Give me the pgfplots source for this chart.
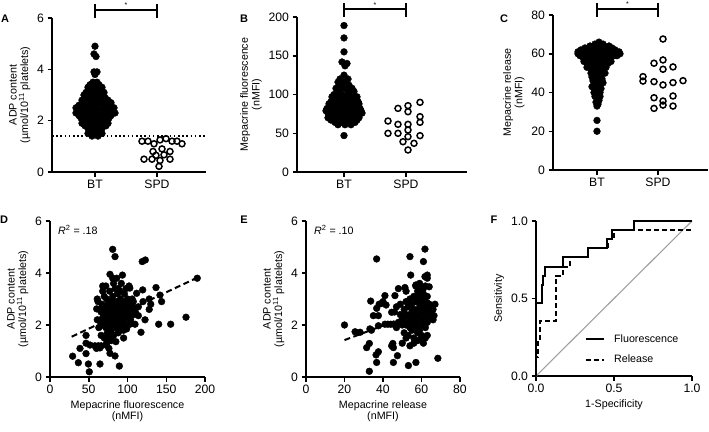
\documentclass[border=0pt]{standalone}
\usepackage{fontspec}
\setmainfont{Liberation Sans}
\usepackage{pgfplots}
\pgfplotsset{compat=1.18}
\newcommand{\tickfont}{\fontsize{12.2bp}{13.5bp}\selectfont}
\newcommand{\labfont}{\fontsize{10.7bp}{11.6bp}\selectfont}
\newcommand{\letfont}{\fontsize{11bp}{12bp}\selectfont\bfseries}
\tikzset{sig/.style={line width=1.6bp}}
\pgfplotsset{
  panel/.style={
    scale only axis, anchor=south west, clip=false,
    enlargelimits=false,
    axis lines=left, axis line style={-, line width=1.6bp},
    every tick/.style={black, line width=1.5bp},
    tick align=outside, major tick length=4.5bp,
    tick label style={font=\tickfont},
    label style={font=\labfont, align=center},
    /pgf/number format/assume math mode=true,
  },
  bfill/.style={only marks, mark=*, mark size=3.4bp, black},
  bopen/.style={only marks, mark=o, mark size=3.0bp, black, mark options={line width=1.5bp}},
}
\begin{document}
\begin{tikzpicture}
\useasboundingbox (0,0) rectangle (709bp,-432bp);

% ---------------- Panel A ----------------
\begin{axis}[panel, at={(52bp,-172bp)}, width=154bp, height=154bp,
  xmin=0, xmax=154, ymin=0, ymax=6,
  xtick={43,105}, xticklabels={BT,SPD}, ytick={0,2,4,6},
  ylabel={ADP content\\(µmol/10\textsuperscript{11} platelets)}]
\addplot[black, line width=1.6bp, dash pattern=on 1.6bp off 2.6bp] coordinates {(0,1.4) (154,1.4)};
\addplot[bfill] coordinates {
(43,4.9)(42,4.6)(44,4.5)(42,3.9)(45,3.9)(43,3.8)
(41,3.5)(45,3.5)(38,3.4)(47,3.4)(36,3.3)(43,3.3)(50,3.3)
(39,3.2)(47,3.2)(34,3.1)(43,3.1)(52,3.1)(32,3.0)(38,3.0)(49,3.0)
(34,2.9)(40,2.9)(46,2.9)(53,2.9)
(30,2.8)(36,2.8)(43,2.8)(50,2.8)(56,2.8)
(32,2.7)(39,2.7)(47,2.7)(54,2.7)(59,2.7)
(27,2.6)(35,2.6)(43,2.6)(51,2.6)(58,2.6)
(24,2.5)(31,2.5)(37,2.5)(44,2.5)(50,2.5)(56,2.5)(62,2.5)
(27,2.4)(33,2.4)(40,2.4)(47,2.4)(54,2.4)(60,2.4)
(24,2.3)(30,2.3)(36,2.3)(42,2.3)(49,2.3)(55,2.3)(61,2.3)(63,2.3)
(27,2.2)(33,2.2)(39,2.2)(46,2.2)(53,2.2)(59,2.2)
(29,2.1)(36,2.1)(43,2.1)(50,2.1)(57,2.1)
(33,2.0)(40,2.0)(47,2.0)(54,2.0)
(30,1.9)(36,1.9)(43,1.9)(50,1.9)(56,1.9)
(33,1.8)(40,1.8)(47,1.8)(54,1.8)
(36,1.7)(43,1.7)(50,1.7)(39,1.6)(47,1.6)
(36,1.5)(43,1.5)(50,1.5)(40,1.4)(46,1.4)};
\addplot[bopen] coordinates {
(90,1.2)(96,1.2)(102,1.1)(108,1.25)(114,1.3)(120,1.2)(125,1.2)(130,1.1)
(101,0.8)(110,0.9)(118,0.8)(104,0.65)(112,0.67)
(92,0.5)(100,0.5)(108,0.45)(118,0.5)(107,0.22)};
\draw[sig] (axis cs:43,6.31) -- (axis cs:105,6.31);
\draw[sig] (axis cs:43,6.55) -- (axis cs:43,6.0);
\draw[sig] (axis cs:105,6.55) -- (axis cs:105,6.0);
\node[font=\fontsize{7bp}{8bp}\selectfont] at (axis cs:74,6.5) {*};
\end{axis}

% ---------------- Panel B ----------------
\begin{axis}[panel, at={(297bp,-172bp)}, width=170bp, height=155bp,
  xmin=0, xmax=170, ymin=0, ymax=200,
  xtick={47,109}, xticklabels={BT,SPD}, ytick={0,50,100,150,200},
  ylabel={Mepacrine fluorescence\\(nMFI)}]
\addplot[bfill] coordinates {
(47,189)(47,173)(47,155)(45,142)(50,140)(48,137)(47,125)
(43,120)(51,120)(47,116)(41,116)(44,112)(52,112)
(39,108)(47,108)(55,108)(42,104)(51,104)(57,104)
(37,100)(45,100)(53,100)
(35,97)(41,97)(48,97)(55,97)(60,97)
(38,94)(45,94)(52,94)(59,94)
(34,91)(41,91)(48,91)(55,91)(61,91)
(32,88)(38,88)(44,88)(51,88)(57,88)(62,88)
(34,85)(41,85)(48,85)(55,85)(61,85)
(30,82)(38,82)(45,82)(52,82)(59,82)(63,82)
(29,79)(35,79)(41,79)(47,79)(53,79)(59,79)(64,79)
(31,76)(37,76)(43,76)(49,76)(55,76)(61,76)(65,76)
(33,73)(40,73)(47,73)(54,73)(60,73)
(31,70)(37,70)(44,70)(51,70)(57,70)(62,70)
(34,67)(41,67)(48,67)(55,67)(60,67)
(38,64)(45,64)(52,64)(58,64)
(41,61)(48,61)(54,61)(47,47)};
\addplot[bopen] coordinates {
(101,82.1)(111,85.6)(111,77.8)(123,89.9)(91,65.8)(101,61.5)(111,61.5)
(123,71.4)(123,64.1)(91,49.9)(101,49.9)(111,54.2)(111,45.6)(123,46.9)
(106,39.1)(117,37.0)(111,28.4)};
\draw[sig] (axis cs:47,210) -- (axis cs:109,210);
\draw[sig] (axis cs:47,218) -- (axis cs:47,200);
\draw[sig] (axis cs:109,218) -- (axis cs:109,200);
\node[font=\fontsize{7bp}{8bp}\selectfont] at (axis cs:78,215.5) {*};
\end{axis}

% ---------------- Panel C ----------------
\begin{axis}[panel, at={(553bp,-170bp)}, width=155bp, height=155bp,
  xmin=0, xmax=155, ymin=0, ymax=80,
  xtick={44,105}, xticklabels={BT,SPD}, ytick={0,20,40,60,80},
  ylabel={Mepacrine release\\(nMFI)}]
\addplot[bfill] coordinates {
(46,66)(42,65)(50,65)(37,64)(44,64)(51,64)(56,64)
(32,63)(39,63)(46,63)(53,63)(59,63)
(28,62)(35,62)(42,62)(49,62)(56,62)(62,62)
(25,61)(32,61)(39,61)(46,61)(53,61)(60,61)(66,61)
(25,60)(31,60)(38,60)(45,60)(52,60)(59,60)(65,60)(67,60)
(27,59)(33,59)(40,59)(47,59)(54,59)(61,59)(64,59)
(30,58)(37,58)(44,58)(51,58)(58,58)
(33,57)(40,57)(47,57)(54,57)
(31,56)(38,56)(45,56)(52,56)(58,56)
(34,55)(41,55)(48,55)(55,55)
(37,54)(44,54)(51,54)(34,53)(41,53)(48,53)(53,53)
(38,52)(45,52)(51,52)(40,51)(48,51)(38,50)(46,50)(52,50)
(41,49)(48,49)(39,48)(47,48)(42,47)(49,47)(40,46)(47,46)
(44,45)(50,45)(41,44)(47,44)(39,43)(45,43)(42,42)(48,42)
(44,41)(41,40)(47,40)(45,39)(42,38)(47,38)(44,37)(46,36)
(43,35)(45,34)(44,33)(44,25.6)(44,20)};
\addplot[bopen] coordinates {
(110,67.6)(101,55.1)(110,56.8)(110,52.0)(120,53.2)(90,48.2)(90,45.9)
(101,45.6)(110,43.9)(120,45.1)(130,46.1)(101,37.3)(110,35.6)(120,38.2)
(110,33.5)(101,31.8)(120,33.0)};
\draw[sig] (axis cs:44,83.1) -- (axis cs:105,83.1);
\draw[sig] (axis cs:44,86.2) -- (axis cs:44,79);
\draw[sig] (axis cs:105,86.2) -- (axis cs:105,79);
\node[font=\fontsize{7bp}{8bp}\selectfont] at (axis cs:74.5,85.5) {*};
\end{axis}

% ---------------- Panel D ----------------
\begin{axis}[panel, at={(50bp,-377bp)}, width=155bp, height=156bp,
  xmin=0, xmax=200, ymin=0, ymax=6,
  xtick={0,50,100,150,200}, ytick={0,2,4,6},
  xlabel={Mepacrine fluorescence\\(nMFI)},
  ylabel={ADP content\\(µmol/10\textsuperscript{11} platelets)}]
\addplot[bfill] coordinates {
(80.9,4.91)(83.9,4.63)(119,4.44)(123,4.5)(190,3.8)(93.5,3.92)(77.4,3.95)(80.9,3.8)
(68,3.5)(103,3.42)(119.6,3.35)(136.8,3.44)(141.9,3.15)(144,2.9)(111.8,3.22)(107.5,2.9)
(114,2.7)(114,2.36)(109.7,2.03)(103.2,2.03)(117.4,1.72)(140.2,2.03)(155.7,2.03)
(175.5,2.3)(122.6,2.2)(98.9,1.85)(85,1.36)(83.9,0.81)(77.4,0.91)(89.5,0.42)
(64.5,0.5)(49.5,0.5)(50.7,0.2)(36.6,0.55)(29.2,0.8)(38.7,1.1)(46.5,1.6)(46.5,1.3)
(51.6,1.23)(62.4,1.2)(64.5,1.12)(72.3,1.23)(46.5,0.9)(61,3.0)(60.2,2.62)(61,2.2)
(74.4,1.55)(81.7,1.62)(130,2.8)(128,3.0)(98,3.4)(90,3.3)(72,3.5)(100,2.0)(95,1.8)
(128,2.6)(120,2.9)(105,2.8)(110,2.5)
(65,2.2)(66,2.5)(67,2.8)(68,2.0)(69,2.4)(70,3.1)(70,2.7)(71,2.2)(72,1.9)(72,2.6)
(73,3.0)(73,2.4)(74,2.1)(74,1.7)(75,2.8)(75,2.5)(76,2.3)(76,1.5)(77,2.0)(77,3.3)
(78,2.7)(78,2.4)(79,2.9)(79,1.8)(80,2.2)(80,2.6)(81,3.1)(81,2.0)(82,2.5)(82,1.6)
(83,2.8)(83,2.3)(84,3.4)(84,2.1)(85,2.6)(85,1.9)(86,2.9)(86,2.4)(87,2.2)(87,3.2)
(88,2.7)(88,1.7)(89,2.5)(89,2.0)(90,2.8)(90,2.3)(91,3.0)(91,1.8)(92,2.6)(92,2.2)
(93,2.9)(93,2.4)(94,2.0)(95,2.7)(95,2.5)(96,3.2)(96,2.2)(97,2.6)(98,2.9)(98,2.3)
(99,2.5)(100,2.7)(100,3.0)(101,2.4)(102,2.6)(103,2.8)(104,2.2)(105,2.5)(106,3.0)
(107,2.7)(108,2.4)(62,2.9)(63,1.9)(64,2.6)(66,1.6)(68,3.3)(70,1.5)(73,1.3)(76,1.1)
(79,1.4)(82,3.6)(86,3.8)(88,3.4)(92,3.6)(95,1.5)(102,3.5)(66,1.2)(60,1.1)(58,1.2)};
\addplot[black, line width=2bp, dash pattern=on 6bp off 3.5bp] coordinates {(28,1.55) (190,3.82)};
\node[font=\labfont, anchor=west] at (rel axis cs:0.03,0.94) {\textit{R}\textsuperscript{2} = .18};
\end{axis}

% ---------------- Panel E ----------------
\begin{axis}[panel, at={(306bp,-377bp)}, width=154bp, height=156bp,
  xmin=0, xmax=80, ymin=0, ymax=6,
  xtick={0,20,40,60,80}, ytick={0,2,4,6},
  xlabel={Mepacrine release\\(nMFI)},
  ylabel={ADP content\\(µmol/10\textsuperscript{11} platelets)}]
\addplot[bfill] coordinates {
(61.8,4.92)(54,4.63)(36.7,4.54)(61,4.44)(54.4,3.92)(61.8,3.86)(63,3.92)(51.4,3.44)
(57.1,3.54)(61,3.41)(64,3.47)(41,3.13)(46.2,3.13)(39.3,2.83)(41.6,2.77)(33.6,2.92)
(36.7,2.64)(44.5,2.49)(35,2.36)(37.6,2.36)(20,2.0)(25.5,1.74)(28.1,1.72)(33.2,1.85)
(41,2.03)(42.5,2.03)(44,2.03)(45.5,2.03)(37.6,1.97)(32.9,1.29)(31.5,1.13)(37.6,0.97)
(36.4,0.85)(45.1,1.29)(45.4,1.13)(44.5,1.2)(47.5,0.82)(36.7,0.56)(45.4,0.56)(53.2,0.44)
(57.1,0.56)(32.9,0.22)(68.5,0.72)(66.5,2.36)(34,1.8)(38,2.8)(40,2.9)(47,2.7)(49,2.4)
(50,2.0)(51,1.7)(52,1.5)(50,1.3)(54,1.2)(56,1.5)(55,1.8)(58,1.7)(60,1.5)(48,3.4)
(52,3.3)(58,3.0)
(50,2.2)(51,2.6)(52,2.9)(52,2.4)(53,2.1)(53,2.7)(54,3.0)(54,2.3)(55,2.5)(55,2.0)
(55,2.8)(56,2.2)(56,3.1)(56,2.6)(57,2.4)(57,1.9)(57,2.9)(58,2.6)(58,2.1)(58,3.3)
(59,2.8)(59,2.3)(59,1.8)(60,2.5)(60,3.0)(60,2.0)(61,2.7)(61,2.2)(61,3.2)(62,2.4)
(62,2.9)(62,1.9)(63,2.6)(63,2.1)(63,3.1)(64,2.8)(64,2.3)(65,2.5)(65,2.7)(66,2.2)
(66,2.6)(67,2.8)(60,1.6)(62,1.5)(61,1.3)(63,1.6)(58,1.4)(56,1.3)(53,1.6)(54,1.9)
(57,3.5)(59,3.6)(60,3.4)(62,3.5)(63,3.8)(59,3.2)(61,2.65)(63,2.85)(52,2.0)(51,2.3)
(49,2.8)(48,2.1)(47,1.9)(46,2.5)};
\addplot[black, line width=2bp, dash pattern=on 6bp off 3.5bp] coordinates {(20,1.42) (68.5,2.77)};
\node[font=\labfont, anchor=west] at (rel axis cs:0.03,0.94) {\textit{R}\textsuperscript{2} = .10};
\end{axis}

% ---------------- Panel F ----------------
\begin{axis}[panel, at={(536bp,-376bp)}, width=156bp, height=155bp,
  xmin=0, xmax=1, ymin=0, ymax=1,
  xtick={0,0.5,1}, ytick={0,0.5,1},
  xticklabel style={/pgf/number format/fixed, /pgf/number format/fixed zerofill, /pgf/number format/precision=1},
  yticklabel style={/pgf/number format/fixed, /pgf/number format/fixed zerofill, /pgf/number format/precision=1},
  xlabel={1-Specificity}, ylabel={Sensitivity},
  legend style={draw=none, fill=none, at={(0.314,0.171)}, anchor=west, font=\labfont,
    inner sep=0pt, row sep=7bp, /tikz/every odd column/.append style={column sep=7bp}},
  legend cell align=left,
  legend image code/.code={\draw[#1] (0bp,0bp) -- (18bp,0bp);}]
\addplot[gray!75, line width=1.1bp, forget plot] coordinates {(0,0) (1,1)};
\addplot[black, line width=2bp] coordinates {
(0,0)(0,0.471)(0.036,0.471)(0.036,0.588)(0.045,0.588)(0.045,0.647)(0.06,0.647)
(0.06,0.706)(0.17,0.706)(0.17,0.765)(0.335,0.765)(0.335,0.824)(0.455,0.824)
(0.455,0.882)(0.49,0.882)(0.49,0.941)(0.63,0.941)(0.63,1)(1,1)};
\addplot[black, line width=2bp, dash pattern=on 5bp off 3bp] coordinates {
(0,0)(0,0.12)(0.012,0.12)(0.012,0.24)(0.024,0.24)(0.024,0.353)(0.128,0.353)
(0.128,0.647)(0.17,0.647)(0.17,0.706)(0.22,0.706)(0.22,0.765)(0.335,0.765)
(0.335,0.824)(0.46,0.824)(0.46,0.882)(0.5,0.882)(0.5,0.941)(1,0.941)};
\legend{Fluorescence, Release}
\end{axis}

% panel letters
\node[font=\letfont] at (5bp,-19bp) {A};
\node[font=\letfont] at (244bp,-19bp) {B};
\node[font=\letfont] at (504bp,-19bp) {C};
\node[font=\letfont] at (4bp,-220bp) {D};
\node[font=\letfont] at (244bp,-220bp) {E};
\node[font=\letfont] at (494bp,-220bp) {F};
\end{tikzpicture}
\end{document}
